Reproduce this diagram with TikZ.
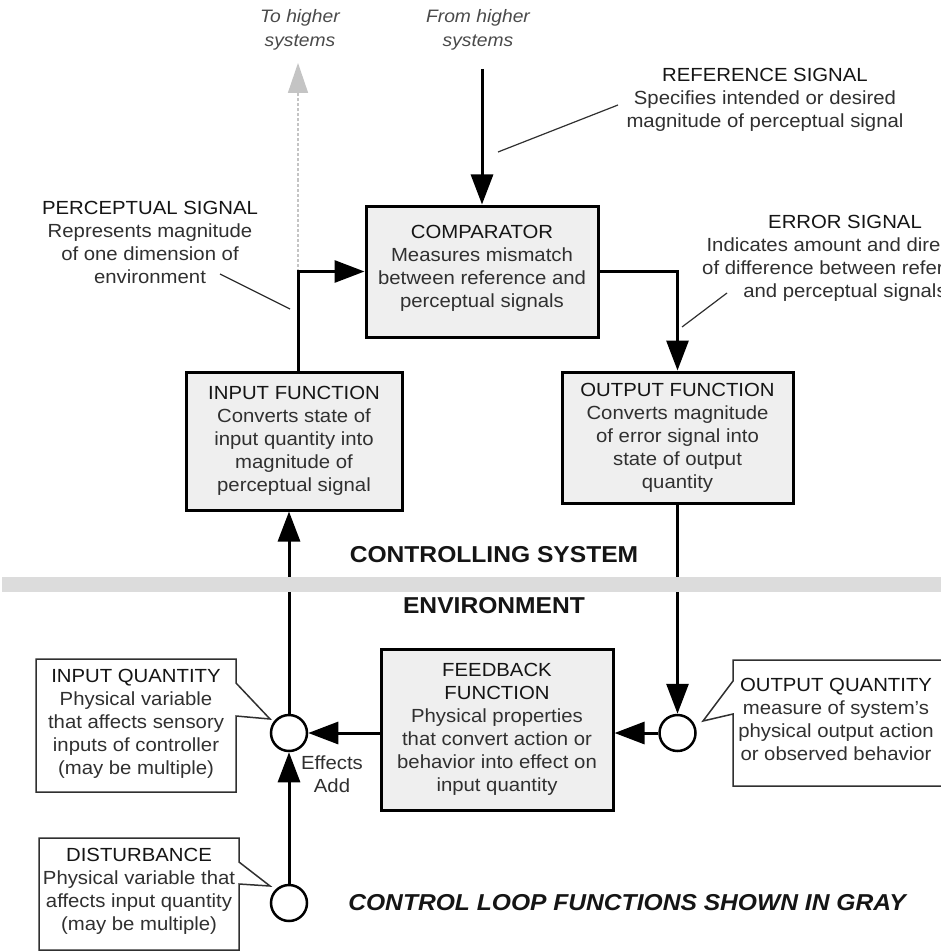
\documentclass[tikz,border=0pt]{standalone}
\usepackage{fontspec}
\setmainfont{Liberation Sans}[FakeStretch=1.07]
\usetikzlibrary{arrows.meta,calc}
\definecolor{boxgray}{HTML}{EFEFEF}
\definecolor{txt}{HTML}{303030}
\definecolor{ttl}{HTML}{151515}
\definecolor{bandgray}{HTML}{DCDCDC}
\definecolor{ghost}{HTML}{C4C4C4}
\definecolor{ghosttext}{HTML}{4A4A4A}
\newcommand{\ttlof}[1]{\textcolor{ttl}{#1}}
\tikzset{
  body/.style={font=\fontsize{19}{23}\selectfont, text=txt, align=center, inner sep=0pt},
  funcbox/.style={draw=black, line width=3pt, fill=boxgray, inner sep=0pt, align=center,
    font=\fontsize{19}{23}\selectfont, text=txt},
  junction/.style={circle, draw=black, line width=2.5pt, fill=white, minimum size=36pt, inner sep=0pt},
  flow/.style={line width=3pt, draw=black, -{Triangle[length=30pt,width=22pt]}},
  ghostflow/.style={line width=1.5pt, draw=ghost, dash pattern=on 3pt off 2pt,
    -{Triangle[length=30pt,width=20pt,fill=ghost]}},
  pointer/.style={line width=1.2pt, draw=txt},
  calloutbox/.style={line width=1.5pt, draw=txt, fill=white, line join=miter},
  heading/.style={font=\fontsize{23}{27}\selectfont\bfseries, text=ttl, inner sep=0pt},
  higher/.style={font=\fontsize{18}{24}\selectfont\itshape, text=ghosttext, align=center, inner sep=0pt},
}
\begin{document}
\begin{tikzpicture}[x=1pt,y=-1pt]
\clip (0,0) rectangle (941,952);
\fill[white] (0,0) rectangle (941,952);

% function boxes
\node[funcbox, minimum width=232pt, minimum height=131pt] (comp) at (482,271.5)
  {\ttlof{COMPARATOR}\\Measures mismatch\\between reference and\\perceptual signals\\[-12pt]\mbox{}};
\node[funcbox, minimum width=216pt, minimum height=138pt] (inf) at (294,441)
  {\ttlof{INPUT FUNCTION}\\Converts state of\\input quantity into\\magnitude of\\perceptual signal};
\node[funcbox, minimum width=231pt, minimum height=131pt] (outf) at (677.5,437.5)
  {\ttlof{OUTPUT FUNCTION}\\Converts magnitude\\of error signal into\\state of output\\quantity};
\node[funcbox, minimum width=232pt, minimum height=161pt] (fb) at (497,729.5)
  {\ttlof{FEEDBACK}\\\ttlof{FUNCTION}\\Physical properties\\that convert action or\\behavior into effect on\\input quantity};

% junctions
\node[junction] (iq) at (289,733) {};
\node[junction] (oq) at (677.5,733) {};
\node[junction] (dist) at (289,903) {};

% top labels
\node[higher] (tohigher) at (300,30) {To higher\\systems};
\node[higher] (fromhigher) at (478,30) {From higher\\systems};

% connectors
\coordinate (pbase) at ([xshift=4pt]inf.north);
\coordinate (pc) at (pbase |- comp.west);
\coordinate (ghostlvl) at (0,63);
\coordinate (ghosttip) at (pc |- ghostlvl);
\draw[ghostflow] (pc) -- (ghosttip);
\draw[flow] (pbase) -- (pc) -- (comp.west);
\coordinate (reftop) at (482,69);
\draw[flow] (reftop) -- (comp.north);
\draw[flow] (comp.east) -| (outf.north);
\draw[flow] (outf.south) -- (oq.north);
\draw[flow] (oq.west) -- (oq -| fb.east);
\draw[flow] (iq -| fb.west) -- (iq.east);
\draw[flow] (dist.north) -- (iq.south);
\draw[flow] (iq.north) -- (iq |- inf.south);

% band between system and environment
\fill[bandgray] (2,577) rectangle (941,592);
\node[heading] (ctrl) at (494,555) {CONTROLLING SYSTEM};
\node[heading] (env) at (494,606) {ENVIRONMENT};

% signal annotations
\node[body] (reflbl) at (765,99.5) {\ttlof{REFERENCE SIGNAL}\\Specifies intended or desired\\magnitude of perceptual signal};
\coordinate (refa) at (618,105);
\coordinate (refb) at (498,152);
\draw[pointer] (refa) -- (refb);

\node[body] (perclbl) at (150,242) {\ttlof{PERCEPTUAL SIGNAL}\\Represents magnitude\\of one dimension of\\environment};
\coordinate (perca) at (220,274);
\coordinate (percb) at (290,309);
\draw[pointer] (perca) -- (percb);

\node[body] (errlbl) at (845,258) {\ttlof{ERROR SIGNAL}\\Indicates amount and direction\\of difference between reference\\and perceptual signals};
\coordinate (erra) at (727,293);
\coordinate (errb) at (682,327);
\draw[pointer] (erra) -- (errb);

\node[body] (effects) at (332,774.5) {Effects\\Add};

% callouts
\draw[calloutbox] (36,659) -- (236,659) -- (236,683) -- (270,719) -- (236,716) -- (236,792) -- (36,792) -- cycle;
\node[body] (iqlbl) at (136,724) {\ttlof{INPUT QUANTITY}\\Physical variable\\that affects sensory\\inputs of controller\\(may be multiple)};

\draw[calloutbox] (39,838) -- (239,838) -- (239,862) -- (270,886) -- (239,884) -- (239,950) -- (39,950) -- cycle;
\node[body] (distlbl) at (139,891) {\ttlof{DISTURBANCE}\\Physical variable that\\affects input quantity\\(may be multiple)};

\draw[calloutbox] (960,660) -- (733,660) -- (733,681) -- (703,721) -- (733,714) -- (733,786) -- (960,786);
\node[body] (oqlbl) at (836,719.5) {\ttlof{OUTPUT QUANTITY}\\measure of system's\\physical output action\\or observed behavior};

\node[heading, font=\fontsize{23}{27}\selectfont\bfseries\itshape] (note) at (627,903) {CONTROL LOOP FUNCTIONS SHOWN IN GRAY};
\end{tikzpicture}
\end{document}
